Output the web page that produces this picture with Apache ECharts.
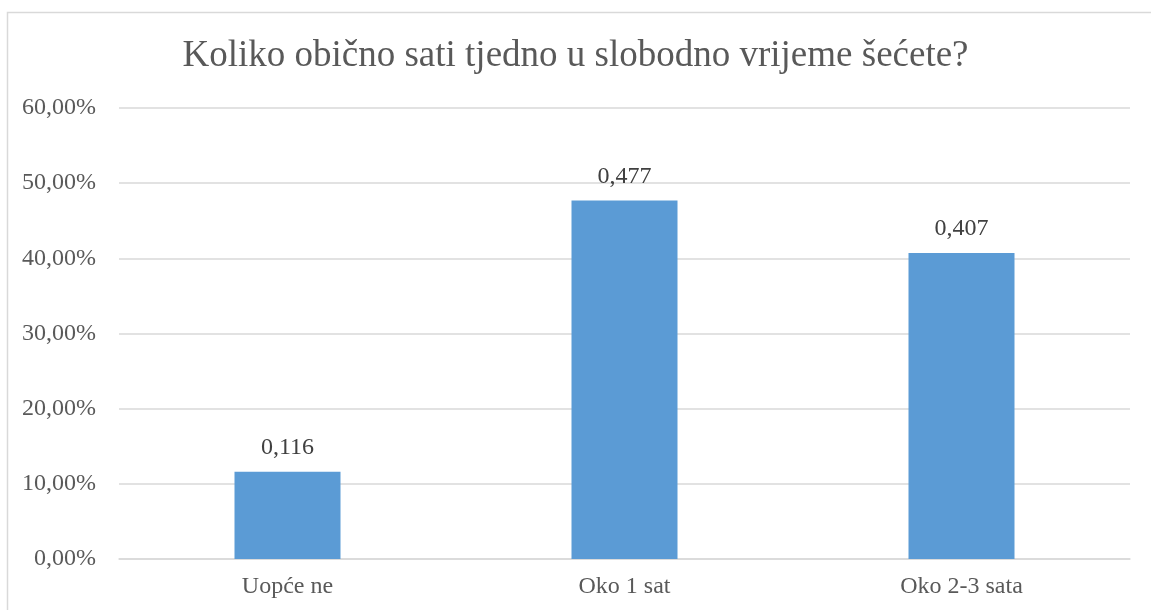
<!DOCTYPE html>
<html>
<head>
<meta charset="utf-8">
<script src="https://cdn.jsdelivr.net/npm/echarts@6/dist/echarts.min.js"></script>
<style>
html, body { margin: 0; padding: 0; background: #fff; }
#chart { width: 1151px; height: 610px; }
</style>
</head>
<body>
<div id="chart"></div>
<script>
// podaci
var categories = ['Uopće ne', 'Oko 1 sat', 'Oko 2-3 sata'];
var values = [0.116, 0.477, 0.407];
var titleText = 'Koliko obično sati tjedno u slobodno vrijeme šećete?';

var chart = echarts.init(document.getElementById('chart'));
var font = '"Liberation Serif", "Times New Roman", serif';
var option = {
  animation: false,
  backgroundColor: '#fff',
  title: {
    text: titleText,
    left: 'center',
    top: 33,
    textStyle: { fontFamily: font, fontSize: 37, fontWeight: 'normal', color: '#595959' }
  },
  graphic: [{
    type: 'rect',
    shape: { x: 7.5, y: 12.5, width: 1300, height: 800 },
    style: { fill: 'none', stroke: '#d9d9d9', lineWidth: 1.5 },
    silent: true
  }],
  grid: { left: 119, right: 21, top: 108, bottom: 51, containLabel: false },
  xAxis: {
    type: 'category',
    data: categories,
    axisLine: { lineStyle: { color: '#d9d9d9', width: 1.5 } },
    axisTick: { show: false },
    axisLabel: { fontFamily: font, fontSize: 24, color: '#595959', margin: 16 }
  },
  yAxis: {
    type: 'value',
    min: 0,
    max: 0.6,
    interval: 0.1,
    axisLine: { show: false },
    axisTick: { show: false },
    splitLine: { lineStyle: { color: '#d9d9d9', width: 1.5 } },
    axisLabel: {
      fontFamily: font, fontSize: 24, color: '#595959', margin: 23,
      formatter: function (v) { return (v * 100).toFixed(2).replace('.', ',') + '%'; }
    }
  },
  series: [{
    type: 'bar',
    data: values,
    barWidth: 106,
    itemStyle: { color: '#5b9bd5' },
    label: {
      show: true,
      position: 'top',
      distance: 12,
      fontFamily: font, fontSize: 24, color: '#404040',
      formatter: function (p) { return String(p.value).replace('.', ','); }
    }
  }]
};
chart.setOption(option);
</script>
</body>
</html>
